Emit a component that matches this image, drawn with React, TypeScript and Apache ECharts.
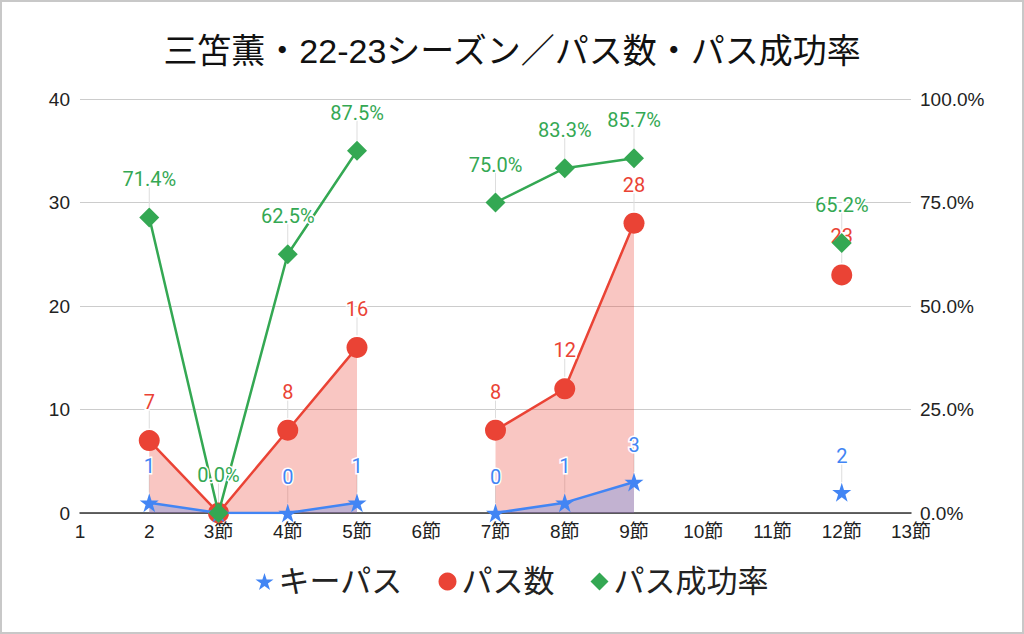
import React, { useEffect, useRef } from "react";
import * as echarts from "echarts";

const categories = ["1", "2", "3節", "4節", "5節", "6節", "7節", "8節", "9節", "10節", "11節", "12節", "13節"];
const keyPasses = [null, 1, 0, 0, 1, null, 0, 1, 3, null, null, 2, null];
const passes = [null, 7, 0, 8, 16, null, 8, 12, 28, null, null, 23, null];
const passRate = [null, 0.714, 0.0, 0.625, 0.875, null, 0.75, 0.833, 0.857, null, null, 0.652, null];
// labels hidden where they collide with the 0.0% label (3節)
const hiddenLabelIdx = [2];

const BLUE = "#4285F4";
const RED = "#EA4335";
const GREEN = "#34A853";
const STAR = "path://M50,0 L61.8,36.2 L100,36.2 L69.1,58.8 L80.9,95.1 L50,72.6 L19.1,95.1 L30.9,58.8 L0,36.2 L38.2,36.2 Z";
const FONT = "'Liberation Sans', 'Noto Sans CJK JP', sans-serif";
const LABEL_FONT = "Roboto, 'Liberation Sans', sans-serif";

function leader(data: (number | null)[], yAxisIndex: number, gap: number, len: number) {
  return {
    type: "custom",
    yAxisIndex,
    silent: true,
    z: 1,
    data: data.map((v, i) => [i, v]),
    renderItem: (params: any, api: any) => {
      const v = api.value(1);
      if (v === null || v === undefined || isNaN(v)) return null;
      const p = api.coord([api.value(0), v]);
      return {
        type: "line",
        shape: { x1: p[0], y1: p[1] - gap, x2: p[0], y2: p[1] - gap - len },
        style: { stroke: "#dddddd", lineWidth: 1 },
      };
    },
  };
}

function withHidden(data: (number | null)[]) {
  return data.map((v, i) => (hiddenLabelIdx.includes(i) ? { value: v, label: { show: false } } : v));
}

export default function App() {
  const ref = useRef<HTMLDivElement>(null);
  useEffect(() => {
    const chart = echarts.init(ref.current!, null, { renderer: "svg" });
    const labelBase = {
      show: true,
      position: "top",
      fontFamily: LABEL_FONT,
      fontSize: 20,
      textBorderColor: "#fff",
      textBorderWidth: 3,
    };
    chart.setOption({
      animation: false,
      backgroundColor: "#fff",
      title: {
        text: "三笘薫・22-23シーズン／パス数・パス成功率",
        left: "center",
        top: 27,
        textStyle: { fontFamily: FONT, fontSize: 34, fontWeight: "normal", color: "#111" },
      },
      legend: {
        bottom: 30,
        left: "center",
        itemGap: 36,
        itemWidth: 18,
        itemHeight: 18,
        textStyle: { fontFamily: FONT, fontSize: 31, color: "#222" },
        data: [
          { name: "キーパス", icon: STAR, itemStyle: { color: BLUE } },
          { name: "パス数", icon: "circle", itemStyle: { color: RED } },
          { name: "パス成功率", icon: "diamond", itemStyle: { color: GREEN } },
        ],
      },
      grid: { left: 78, right: 111, top: 97, bottom: 119 },
      xAxis: {
        type: "category",
        data: categories,
        boundaryGap: false,
        axisLine: { lineStyle: { color: "#333", width: 1.5 } },
        axisTick: { show: false },
        axisLabel: { fontFamily: FONT, fontSize: 19, color: "#222", margin: 9, interval: 0 },
      },
      yAxis: [
        {
          type: "value",
          min: 0,
          max: 40,
          interval: 10,
          axisLine: { show: false },
          axisTick: { show: false },
          axisLabel: { fontFamily: FONT, fontSize: 19, color: "#222", margin: 10 },
          splitLine: { lineStyle: { color: "#cccccc" } },
        },
        {
          type: "value",
          min: 0,
          max: 1,
          interval: 0.25,
          axisLine: { show: false },
          axisTick: { show: false },
          axisLabel: {
            fontFamily: FONT,
            fontSize: 19,
            color: "#222",
            margin: 9,
            formatter: (v: number) => (v * 100).toFixed(1) + "%",
          },
          splitLine: { show: false },
        },
      ],
      series: [
        leader(keyPasses, 0, 10, 20),
        leader(passes, 0, 12, 18),
        leader(passRate, 1, 10, 20),
        {
          name: "パス数",
          type: "line",
          yAxisIndex: 0,
          data: withHidden(passes),
          connectNulls: false,
          symbol: "circle",
          symbolSize: 21,
          z: 3,
          lineStyle: { color: RED, width: 2.5 },
          itemStyle: { color: RED },
          areaStyle: { color: RED, opacity: 0.3 },
          label: { ...labelBase, color: RED, distance: 18 },
        },
        {
          name: "キーパス",
          type: "line",
          yAxisIndex: 0,
          data: withHidden(keyPasses),
          connectNulls: false,
          symbol: STAR,
          symbolSize: 19,
          z: 4,
          lineStyle: { color: BLUE, width: 2.5 },
          itemStyle: { color: BLUE },
          areaStyle: { color: BLUE, opacity: 0.3 },
          label: { ...labelBase, color: BLUE, distance: 17 },
        },
        {
          name: "パス成功率",
          type: "line",
          yAxisIndex: 1,
          data: passRate,
          connectNulls: false,
          symbol: "diamond",
          symbolSize: 20,
          z: 5,
          lineStyle: { color: GREEN, width: 2.5 },
          itemStyle: { color: GREEN },
          label: {
            ...labelBase,
            color: GREEN,
            distance: 18,
            formatter: (p: any) => (p.value * 100).toFixed(1) + "%",
          },
        },
      ],
    });
    return () => chart.dispose();
  }, []);
  return (
    <div
      ref={ref}
      style={{
        position: "fixed",
        left: 0,
        top: 0,
        width: 1024,
        height: 634,
        border: "2px solid #c8c8c8",
        boxSizing: "border-box",
      }}
    />
  );
}
